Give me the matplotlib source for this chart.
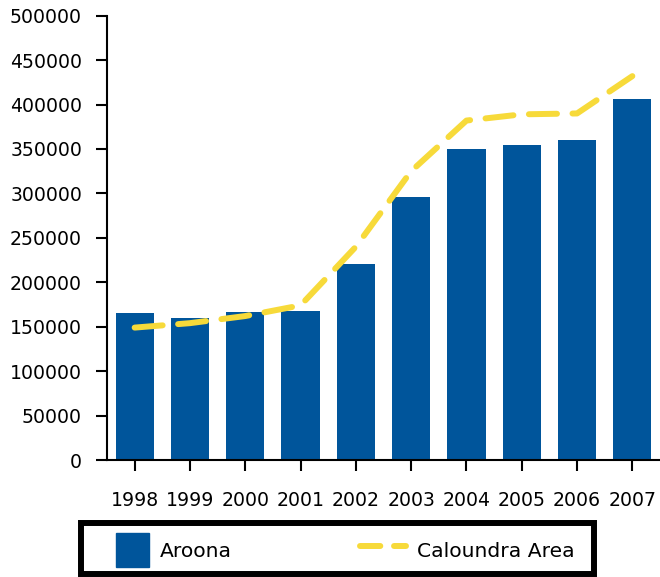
import matplotlib
matplotlib.use("Agg")
import matplotlib.pyplot as plt
import matplotlib.patches as mpatches
from matplotlib.legend_handler import HandlerPatch
from matplotlib.lines import Line2D

years = ["1998", "1999", "2000", "2001", "2002", "2003", "2004", "2005", "2006", "2007"]
aroona = [165000, 160000, 167000, 167500, 221000, 296000, 349500, 355000, 360000, 406000]
caloundra = [149000, 154000, 162000, 174000, 240000, 325000, 382000, 389000, 390000, 432000]
yticks = [0, 50000, 100000, 150000, 200000, 250000, 300000, 350000, 400000, 450000, 500000]

bar_color = "#00559B"
line_color = "#F7DA3A"

plt.rcParams['font.family'] = ['DejaVu Sans']

W, H = 660, 577
fig = plt.figure(figsize=(6.6, 5.77), dpi=100)
ax = fig.add_axes([107/W, 1 - 460/H, 1 - 107/W, (460 - 15.7)/H])

x = list(range(len(years)))
ax.bar(x, aroona, width=0.69, color=bar_color, label="Aroona", zorder=2)
ax.plot(x, caloundra, color=line_color, lw=4.3, linestyle=(0, (4.7, 2.6)),
        dash_capstyle='round', label="Caloundra Area", zorder=3)

ax.set_xlim(-0.5, 9.5)
ax.set_ylim(0, 500000)
ax.set_xticks(x)
ax.set_xticklabels(years)
ax.set_yticks(yticks)
ax.set_yticklabels([str(v) for v in yticks])
for s in ["top", "right"]:
    ax.spines[s].set_visible(False)
for s in ["left", "bottom"]:
    ax.spines[s].set_linewidth(1.5)
    ax.spines[s].set_color("black")
ax.tick_params(axis='both', length=8, width=1.5, colors='black', labelsize=13.6)
ax.tick_params(axis='y', pad=10)
ax.tick_params(axis='x', pad=14)

LFS = 14.6


def make_patch(legend, orig_handle, xdescent, ydescent, width, height, fontsize):
    w = 33 * 0.72
    h = 34 * 0.72
    return mpatches.Rectangle((-xdescent + width - w, -ydescent + (height - h) / 2), w, h)


patch = mpatches.Patch(color=bar_color, label="Aroona")
line = Line2D([], [], color=line_color, lw=4.3, linestyle=(0, (3.4, 2.3)),
              dash_capstyle='round', label="Caloundra Area")

leg = fig.legend(handles=[patch, line], labels=["Aroona", "Caloundra Area"],
                 loc='center left', bbox_to_anchor=(103/W, 1 - 550/H),
                 ncol=2, fontsize=LFS, frameon=False,
                 handlelength=46*0.72/LFS, handleheight=1.7, handletextpad=0.55,
                 columnspacing=6.3, borderpad=0.0, borderaxespad=0.0,
                 handler_map={mpatches.Patch: HandlerPatch(patch_func=make_patch)})

frame = mpatches.Rectangle((81/W, 1 - 574/H), (594 - 81)/W, (574 - 523)/H,
                           transform=fig.transFigure, fill=False,
                           edgecolor='black', linewidth=4.3, joinstyle='miter')
fig.add_artist(frame)

fig.savefig("out.png", dpi=100)
